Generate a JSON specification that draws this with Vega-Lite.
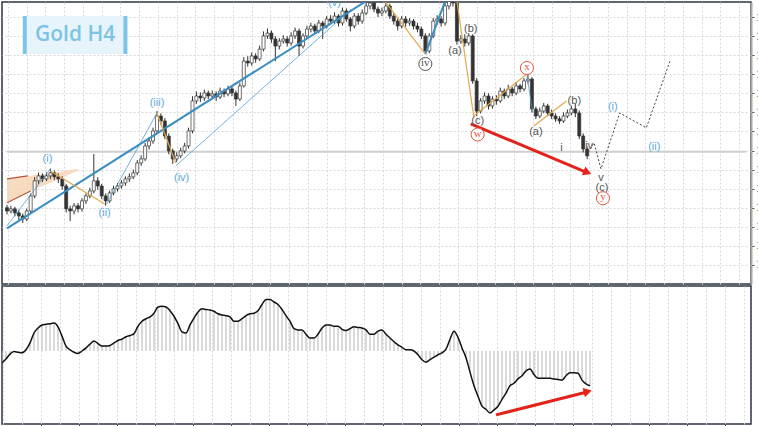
{
  "$schema": "https://vega.github.io/schema/vega-lite/v6.json",
  "padding": {"left": 1, "top": 1, "right": -19, "bottom": 0},
  "background": "white",
  "config": {
    "view": {"stroke": "#2b3440", "strokeWidth": 1.5},
    "concat": {"spacing": 0},
    "axis": {"gridColor": "#d8d8d8", "gridDash": [2, 2], "gridWidth": 1, "tickColor": "#555", "labelColor": "#333", "labelFontSize": 10, "labelFont": "Liberation Sans"}
  },
  "datasets": {
    "candles": [
      {"t":0,"o":1420.0,"h":1421.5,"l":1416.5,"c":1418.3,"m":-0.19},
      {"t":1,"o":1418.3,"h":1421.0,"l":1417.0,"c":1419.4,"m":-0.13},
      {"t":2,"o":1419.4,"h":1420.5,"l":1415.5,"c":1417.3,"m":-0.05},
      {"t":3,"o":1417.3,"h":1419.0,"l":1413.5,"c":1415.7,"m":-0.01},
      {"t":4,"o":1415.7,"h":1417.0,"l":1412.0,"c":1414.1,"m":-0.02},
      {"t":5,"o":1414.1,"h":1419.5,"l":1413.0,"c":1418.3,"m":-0.03},
      {"t":6,"o":1418.3,"h":1427.5,"l":1417.0,"c":1426.2,"m":0.02},
      {"t":7,"o":1426.2,"h":1436.0,"l":1425.0,"c":1434.1,"m":0.13},
      {"t":8,"o":1434.1,"h":1438.5,"l":1432.5,"c":1436.7,"m":0.29},
      {"t":9,"o":1436.7,"h":1438.0,"l":1433.5,"c":1435.1,"m":0.37},
      {"t":10,"o":1435.1,"h":1438.5,"l":1434.0,"c":1436.7,"m":0.42},
      {"t":11,"o":1436.7,"h":1440.5,"l":1435.0,"c":1438.3,"m":0.43},
      {"t":12,"o":1438.3,"h":1439.5,"l":1434.5,"c":1436.2,"m":0.44},
      {"t":13,"o":1436.2,"h":1438.0,"l":1433.0,"c":1435.1,"m":0.45},
      {"t":14,"o":1435.1,"h":1436.5,"l":1429.5,"c":1431.4,"m":0.39},
      {"t":15,"o":1431.4,"h":1432.5,"l":1417.5,"c":1419.4,"m":0.24},
      {"t":16,"o":1419.4,"h":1421.0,"l":1413.0,"c":1418.3,"m":0.08},
      {"t":17,"o":1418.3,"h":1422.5,"l":1416.5,"c":1421.0,"m":0.02},
      {"t":18,"o":1421.0,"h":1422.5,"l":1417.5,"c":1419.4,"m":-0.02},
      {"t":19,"o":1419.4,"h":1425.0,"l":1418.0,"c":1423.6,"m":-0.04},
      {"t":20,"o":1423.6,"h":1427.5,"l":1422.0,"c":1426.2,"m":0.0},
      {"t":21,"o":1426.2,"h":1430.5,"l":1425.0,"c":1428.8,"m":0.05},
      {"t":22,"o":1428.8,"h":1448.2,"l":1427.5,"c":1434.1,"m":0.11},
      {"t":23,"o":1434.1,"h":1436.0,"l":1429.5,"c":1431.4,"m":0.16},
      {"t":24,"o":1431.4,"h":1432.5,"l":1424.5,"c":1426.2,"m":0.12},
      {"t":25,"o":1426.2,"h":1427.5,"l":1421.0,"c":1423.6,"m":0.08},
      {"t":26,"o":1423.6,"h":1429.0,"l":1422.5,"c":1427.8,"m":0.08},
      {"t":27,"o":1427.8,"h":1431.5,"l":1426.5,"c":1429.9,"m":0.09},
      {"t":28,"o":1429.9,"h":1433.0,"l":1428.5,"c":1431.4,"m":0.13},
      {"t":29,"o":1431.4,"h":1434.5,"l":1430.0,"c":1433.0,"m":0.17},
      {"t":30,"o":1433.0,"h":1436.5,"l":1431.5,"c":1435.1,"m":0.19},
      {"t":31,"o":1435.1,"h":1438.0,"l":1433.5,"c":1436.2,"m":0.23},
      {"t":32,"o":1436.2,"h":1440.0,"l":1435.0,"c":1438.3,"m":0.25},
      {"t":33,"o":1438.3,"h":1445.0,"l":1437.0,"c":1443.5,"m":0.28},
      {"t":34,"o":1443.5,"h":1447.5,"l":1442.0,"c":1445.6,"m":0.40},
      {"t":35,"o":1445.6,"h":1454.0,"l":1444.5,"c":1452.4,"m":0.48},
      {"t":36,"o":1452.4,"h":1457.0,"l":1450.5,"c":1455.0,"m":0.52},
      {"t":37,"o":1455.0,"h":1462.0,"l":1453.5,"c":1460.3,"m":0.55},
      {"t":38,"o":1460.3,"h":1470.7,"l":1459.0,"c":1468.1,"m":0.61},
      {"t":39,"o":1468.1,"h":1469.5,"l":1463.5,"c":1465.5,"m":0.71},
      {"t":40,"o":1465.5,"h":1467.0,"l":1456.0,"c":1457.6,"m":0.72},
      {"t":41,"o":1457.6,"h":1459.0,"l":1448.0,"c":1449.8,"m":0.71},
      {"t":42,"o":1449.8,"h":1451.0,"l":1443.0,"c":1445.6,"m":0.65},
      {"t":43,"o":1445.6,"h":1449.0,"l":1444.0,"c":1447.2,"m":0.56},
      {"t":44,"o":1447.2,"h":1451.5,"l":1446.0,"c":1449.8,"m":0.44},
      {"t":45,"o":1449.8,"h":1454.0,"l":1448.5,"c":1452.4,"m":0.31},
      {"t":46,"o":1452.4,"h":1462.0,"l":1451.0,"c":1460.3,"m":0.29},
      {"t":47,"o":1460.3,"h":1478.5,"l":1459.0,"c":1476.0,"m":0.42},
      {"t":48,"o":1476.0,"h":1481.0,"l":1474.5,"c":1478.6,"m":0.53},
      {"t":49,"o":1478.6,"h":1480.5,"l":1475.5,"c":1477.6,"m":0.63},
      {"t":50,"o":1477.6,"h":1482.0,"l":1476.0,"c":1480.2,"m":0.68},
      {"t":51,"o":1480.2,"h":1481.5,"l":1477.0,"c":1478.6,"m":0.67},
      {"t":52,"o":1478.6,"h":1481.5,"l":1477.5,"c":1479.7,"m":0.66},
      {"t":53,"o":1479.7,"h":1481.0,"l":1476.0,"c":1478.1,"m":0.64},
      {"t":54,"o":1478.1,"h":1483.0,"l":1477.0,"c":1481.2,"m":0.60},
      {"t":55,"o":1481.2,"h":1482.5,"l":1478.0,"c":1479.7,"m":0.58},
      {"t":56,"o":1479.7,"h":1484.0,"l":1478.5,"c":1482.3,"m":0.57},
      {"t":57,"o":1482.3,"h":1483.5,"l":1478.5,"c":1480.2,"m":0.55},
      {"t":58,"o":1480.2,"h":1481.5,"l":1473.4,"c":1477.0,"m":0.48},
      {"t":59,"o":1477.0,"h":1485.5,"l":1476.0,"c":1483.9,"m":0.48},
      {"t":60,"o":1483.9,"h":1499.0,"l":1483.0,"c":1496.9,"m":0.52},
      {"t":61,"o":1496.9,"h":1499.5,"l":1494.0,"c":1495.9,"m":0.57},
      {"t":62,"o":1495.9,"h":1501.5,"l":1494.5,"c":1499.6,"m":0.60},
      {"t":63,"o":1499.6,"h":1501.0,"l":1496.0,"c":1498.0,"m":0.61},
      {"t":64,"o":1498.0,"h":1505.0,"l":1497.0,"c":1503.2,"m":0.65},
      {"t":65,"o":1503.2,"h":1512.5,"l":1502.0,"c":1510.1,"m":0.75},
      {"t":66,"o":1510.1,"h":1514.0,"l":1508.5,"c":1511.6,"m":0.83},
      {"t":67,"o":1511.6,"h":1513.0,"l":1506.5,"c":1508.5,"m":0.83},
      {"t":68,"o":1508.5,"h":1510.0,"l":1496.9,"c":1504.8,"m":0.79},
      {"t":69,"o":1504.8,"h":1509.0,"l":1503.0,"c":1507.4,"m":0.75},
      {"t":70,"o":1507.4,"h":1510.5,"l":1506.0,"c":1508.5,"m":0.67},
      {"t":71,"o":1508.5,"h":1510.0,"l":1504.5,"c":1506.4,"m":0.57},
      {"t":72,"o":1506.4,"h":1512.0,"l":1505.0,"c":1510.1,"m":0.48},
      {"t":73,"o":1510.1,"h":1514.5,"l":1508.5,"c":1512.7,"m":0.36},
      {"t":74,"o":1512.7,"h":1514.0,"l":1499.6,"c":1504.8,"m":0.34},
      {"t":75,"o":1504.8,"h":1511.5,"l":1503.5,"c":1510.1,"m":0.34},
      {"t":76,"o":1510.1,"h":1515.5,"l":1508.5,"c":1513.7,"m":0.27},
      {"t":77,"o":1513.7,"h":1517.0,"l":1512.0,"c":1515.3,"m":0.21},
      {"t":78,"o":1515.3,"h":1516.5,"l":1511.0,"c":1512.7,"m":0.21},
      {"t":79,"o":1512.7,"h":1518.5,"l":1511.5,"c":1516.9,"m":0.27},
      {"t":80,"o":1516.9,"h":1518.0,"l":1508.5,"c":1515.3,"m":0.37},
      {"t":81,"o":1515.3,"h":1520.5,"l":1514.0,"c":1519.0,"m":0.42},
      {"t":82,"o":1519.0,"h":1521.0,"l":1516.0,"c":1517.9,"m":0.42},
      {"t":83,"o":1517.9,"h":1522.5,"l":1516.5,"c":1520.5,"m":0.40},
      {"t":84,"o":1520.5,"h":1521.5,"l":1515.0,"c":1516.9,"m":0.40},
      {"t":85,"o":1516.9,"h":1525.0,"l":1515.5,"c":1523.2,"m":0.35},
      {"t":86,"o":1523.2,"h":1524.5,"l":1517.5,"c":1519.0,"m":0.33},
      {"t":87,"o":1519.0,"h":1520.0,"l":1512.5,"c":1515.3,"m":0.36},
      {"t":88,"o":1515.3,"h":1522.0,"l":1514.0,"c":1520.5,"m":0.39},
      {"t":89,"o":1520.5,"h":1522.0,"l":1516.0,"c":1517.9,"m":0.38},
      {"t":90,"o":1517.9,"h":1524.0,"l":1516.5,"c":1522.1,"m":0.37},
      {"t":91,"o":1522.1,"h":1527.5,"l":1521.0,"c":1525.8,"m":0.34},
      {"t":92,"o":1525.8,"h":1530.0,"l":1524.0,"c":1527.4,"m":0.27},
      {"t":93,"o":1527.4,"h":1528.5,"l":1522.5,"c":1524.2,"m":0.27},
      {"t":94,"o":1524.2,"h":1525.5,"l":1520.0,"c":1522.1,"m":0.32},
      {"t":95,"o":1522.1,"h":1525.0,"l":1520.5,"c":1523.2,"m":0.34},
      {"t":96,"o":1523.2,"h":1528.0,"l":1522.0,"c":1525.8,"m":0.27},
      {"t":97,"o":1525.8,"h":1527.0,"l":1519.0,"c":1520.5,"m":0.21},
      {"t":98,"o":1520.5,"h":1522.0,"l":1516.0,"c":1517.9,"m":0.15},
      {"t":99,"o":1517.9,"h":1519.5,"l":1513.0,"c":1515.3,"m":0.10},
      {"t":100,"o":1515.3,"h":1520.5,"l":1514.0,"c":1519.0,"m":0.06},
      {"t":101,"o":1519.0,"h":1520.5,"l":1515.0,"c":1516.9,"m":0.02},
      {"t":102,"o":1516.9,"h":1519.5,"l":1515.5,"c":1517.9,"m":0.02},
      {"t":103,"o":1517.9,"h":1519.0,"l":1513.5,"c":1515.3,"m":0.0},
      {"t":104,"o":1515.3,"h":1517.0,"l":1512.0,"c":1513.7,"m":-0.06},
      {"t":105,"o":1513.7,"h":1515.0,"l":1508.5,"c":1510.1,"m":-0.14},
      {"t":106,"o":1510.1,"h":1511.5,"l":1500.6,"c":1502.2,"m":-0.18},
      {"t":107,"o":1502.2,"h":1511.5,"l":1501.0,"c":1510.1,"m":-0.14},
      {"t":108,"o":1510.1,"h":1519.5,"l":1509.0,"c":1517.9,"m":-0.10},
      {"t":109,"o":1517.9,"h":1521.0,"l":1516.0,"c":1519.0,"m":-0.06},
      {"t":110,"o":1519.0,"h":1520.5,"l":1515.0,"c":1516.9,"m":-0.03},
      {"t":111,"o":1516.9,"h":1527.5,"l":1515.5,"c":1525.8,"m":0.03},
      {"t":112,"o":1525.8,"h":1533.0,"l":1524.0,"c":1531.0,"m":0.19},
      {"t":113,"o":1531.0,"h":1533.0,"l":1525.5,"c":1527.4,"m":0.32},
      {"t":114,"o":1527.4,"h":1528.5,"l":1505.5,"c":1507.4,"m":0.22},
      {"t":115,"o":1507.4,"h":1510.5,"l":1506.0,"c":1508.5,"m":0.05},
      {"t":116,"o":1508.5,"h":1511.0,"l":1504.5,"c":1506.4,"m":-0.11},
      {"t":117,"o":1506.4,"h":1511.5,"l":1505.0,"c":1510.1,"m":-0.34},
      {"t":118,"o":1510.1,"h":1511.0,"l":1485.0,"c":1486.5,"m":-0.56},
      {"t":119,"o":1486.5,"h":1488.0,"l":1468.1,"c":1470.7,"m":-0.73},
      {"t":120,"o":1470.7,"h":1477.5,"l":1469.5,"c":1476.0,"m":-0.89},
      {"t":121,"o":1476.0,"h":1480.5,"l":1474.5,"c":1478.6,"m":-0.94},
      {"t":122,"o":1478.6,"h":1480.0,"l":1471.5,"c":1473.4,"m":-1.0},
      {"t":123,"o":1473.4,"h":1478.5,"l":1472.0,"c":1477.0,"m":-0.95},
      {"t":124,"o":1477.0,"h":1479.0,"l":1474.0,"c":1476.0,"m":-0.89},
      {"t":125,"o":1476.0,"h":1483.0,"l":1475.0,"c":1481.2,"m":-0.78},
      {"t":126,"o":1481.2,"h":1482.5,"l":1477.0,"c":1478.6,"m":-0.68},
      {"t":127,"o":1478.6,"h":1484.5,"l":1477.5,"c":1482.3,"m":-0.56},
      {"t":128,"o":1482.3,"h":1483.5,"l":1478.5,"c":1480.2,"m":-0.52},
      {"t":129,"o":1480.2,"h":1486.0,"l":1479.0,"c":1483.9,"m":-0.45},
      {"t":130,"o":1483.9,"h":1485.0,"l":1480.5,"c":1482.3,"m":-0.40},
      {"t":131,"o":1482.3,"h":1488.0,"l":1481.0,"c":1486.5,"m":-0.32},
      {"t":132,"o":1486.5,"h":1490.1,"l":1485.0,"c":1487.5,"m":-0.29},
      {"t":133,"o":1487.5,"h":1488.5,"l":1470.0,"c":1471.8,"m":-0.38},
      {"t":134,"o":1471.8,"h":1473.0,"l":1466.5,"c":1468.1,"m":-0.44},
      {"t":135,"o":1468.1,"h":1472.5,"l":1467.0,"c":1470.7,"m":-0.44},
      {"t":136,"o":1470.7,"h":1475.0,"l":1469.5,"c":1473.4,"m":-0.44},
      {"t":137,"o":1473.4,"h":1474.5,"l":1468.0,"c":1469.7,"m":-0.44},
      {"t":138,"o":1469.7,"h":1471.5,"l":1466.5,"c":1468.1,"m":-0.45},
      {"t":139,"o":1468.1,"h":1469.5,"l":1465.0,"c":1466.6,"m":-0.46},
      {"t":140,"o":1466.6,"h":1468.0,"l":1464.0,"c":1465.5,"m":-0.47},
      {"t":141,"o":1465.5,"h":1470.0,"l":1464.5,"c":1468.1,"m":-0.40},
      {"t":142,"o":1468.1,"h":1471.5,"l":1467.0,"c":1469.7,"m":-0.35},
      {"t":143,"o":1469.7,"h":1473.5,"l":1468.5,"c":1471.8,"m":-0.35},
      {"t":144,"o":1471.8,"h":1474.4,"l":1467.5,"c":1469.7,"m":-0.36},
      {"t":145,"o":1469.7,"h":1471.0,"l":1456.0,"c":1457.6,"m":-0.47},
      {"t":146,"o":1457.6,"h":1459.0,"l":1449.0,"c":1450.8,"m":-0.53},
      {"t":147,"o":1450.8,"h":1452.0,"l":1445.5,"c":1447.2,"m":-0.56}
    ],
    "segs": [
      {"seg":"b1","kind":"blueThick","t":0,"p":1409.2},
      {"seg":"b1","kind":"blueThick","t":95,"p":1533.6},
      {"seg":"b2","kind":"blueThick","t":106,"p":1500.6},
      {"seg":"b2","kind":"blueThick","t":111.5,"p":1531.0},
      {"seg":"b3","kind":"blueThin","t":42.75,"p":1441.9},
      {"seg":"b3","kind":"blueThin","t":87.25,"p":1524.2},
      {"seg":"b4","kind":"blueThin","t":25.25,"p":1422.0},
      {"seg":"b4","kind":"blueThin","t":38,"p":1469.7},
      {"seg":"b5","kind":"blueThin","t":0,"p":1410.5},
      {"seg":"b5","kind":"blueThin","t":11,"p":1440.4},
      {"seg":"b6","kind":"blueThin","t":131.75,"p":1489.1},
      {"seg":"b6","kind":"blueThin","t":133.25,"p":1469.7},
      {"seg":"o1","kind":"tan","t":11,"p":1439.3},
      {"seg":"o1","kind":"tan","t":24.75,"p":1422.0},
      {"seg":"o2","kind":"tan","t":38,"p":1469.7},
      {"seg":"o2","kind":"tan","t":42.75,"p":1443.5},
      {"seg":"o3","kind":"tan","t":94.75,"p":1531.0},
      {"seg":"o3","kind":"tan","t":106,"p":1500.6},
      {"seg":"o4","kind":"tan","t":114,"p":1528.4},
      {"seg":"o4","kind":"tan","t":118.25,"p":1468.1},
      {"seg":"o5","kind":"tan","t":118.25,"p":1468.1},
      {"seg":"o5","kind":"tan","t":131.75,"p":1490.1},
      {"seg":"o6","kind":"tan","t":133.5,"p":1462.9},
      {"seg":"o6","kind":"tan","t":141.75,"p":1476.0},
      {"seg":"r1","kind":"brown","t":0,"p":1435.1},
      {"seg":"r1","kind":"brown","t":5.25,"p":1436.7},
      {"seg":"r2","kind":"brown","t":0,"p":1422.6},
      {"seg":"r2","kind":"brown","t":6,"p":1428.8},
      {"seg":"d","kind":"dotted","t":146.75,"p":1447.2},
      {"seg":"d","kind":"dotted","t":148.75,"p":1454.0},
      {"seg":"d","kind":"dotted","t":150.5,"p":1440.4},
      {"seg":"d","kind":"dotted","t":155.25,"p":1469.7},
      {"seg":"d","kind":"dotted","t":162,"p":1461.9},
      {"seg":"d","kind":"dotted","t":168,"p":1497.0},
      {"seg":"a1","kind":"arrow","t":117.5,"p":1464.0},
      {"seg":"a1","kind":"arrow","t":146.25,"p":1439.1}
    ],
    "arrowHead": [{"t":146.75,"p":1438.8}],
    "wedge": [
      {"t":0,"p":1435.1,"p2":1422.6},
      {"t":5.25,"p":1436.7,"p2":1428.3},
      {"t":12.25,"p":1438.3,"p2":1434.1},
      {"t":17.75,"p":1440.4,"p2":1439.3}
    ],
    "lastPrice": [{"t":0,"p":1449.3},{"t":187.25,"p":1449.3}],
    "labels": [
      {"t":10.25,"p":1445.6,"txt":"(i)","kind":"blue"},
      {"t":24.75,"p":1417.3,"txt":"(ii)","kind":"blue"},
      {"t":38,"p":1474.9,"txt":"(iii)","kind":"blue"},
      {"t":44.25,"p":1435.6,"txt":"(iv)","kind":"blue"},
      {"t":83,"p":1527.4,"txt":"(v)","kind":"blue"},
      {"t":153.5,"p":1472.8,"txt":"(i)","kind":"blue"},
      {"t":164,"p":1451.9,"txt":"(ii)","kind":"blue"},
      {"t":113.5,"p":1502.2,"txt":"(a)","kind":"gray"},
      {"t":117.5,"p":1513.7,"txt":"(b)","kind":"gray"},
      {"t":119.25,"p":1465.5,"txt":"(c)","kind":"gray"},
      {"t":134,"p":1459.7,"txt":"(a)","kind":"gray"},
      {"t":143.75,"p":1476.0,"txt":"(b)","kind":"gray"},
      {"t":140.5,"p":1451.4,"txt":"i","kind":"gray"},
      {"t":147.5,"p":1452.4,"txt":"iv","kind":"gray"},
      {"t":150.5,"p":1435.8,"txt":"v","kind":"gray"},
      {"t":150.75,"p":1430.6,"txt":"(c)","kind":"gray"}
    ],
    "circled": [
      {"t":106,"p":1495.4,"txt":"iv","kind":"gray"},
      {"t":119.25,"p":1458.4,"txt":"w","kind":"red"},
      {"t":131.75,"p":1493.3,"txt":"x","kind":"red"},
      {"t":151,"p":1425.0,"txt":"y","kind":"red"}
    ],
    "titleBox": [
      {"part":"box","t":4,"t2":30.5,"p":1500.6,"p2":1520.5},
      {"part":"bar","t":4,"t2":5,"p":1500.6,"p2":1520.5},
      {"part":"bar","t":29.5,"t2":30.5,"p":1500.6,"p2":1520.5}
    ],
    "titleText": [{"t":17.25,"p":1510.4,"txt":"Gold H4"}],
    "arrow2": [{"t":123.5,"m":-1.03},{"t":145.75,"m":-0.67}],
    "arrow2Head": [{"t":146.1,"m":-0.66}]
  },
  "vconcat": [
    {
      "width": 749,
      "height": 282,
      "encoding": {
        "x": {"field": "t", "type": "quantitative", "title": null,
          "scale": {"domain": [0, 187.25], "nice": false, "zero": false},
          "axis": {"values": [0.25,5,9.75,14.5,19.25,24,28.75,33.5,38.25,43,47.75,52.5,57.25,62,66.75,71.5,76.25,81,85.75,90.5,95.25,100,104.75,109.5,114.25,119,123.75,128.5,133.25,138,142.75,147.5,152.25,157,161.75,166.5,171.25,176,180.75,185.5], "grid": true, "ticks": false, "labels": false, "domain": false}},
        "y": {"field": "p", "type": "quantitative", "title": null,
          "scale": {"domain": [1380, 1527.9], "nice": false, "zero": false},
          "axis": {"orient": "right", "values": [1390,1400,1410,1420,1430,1440,1450,1460,1470,1480,1490,1500,1510,1520], "format": "d", "grid": true, "tickSize": 3, "labelPadding": 2, "domain": true, "domainColor": "#a8a8a8", "domainWidth": 2}}
      },
      "layer": [
        {"data": {"name": "wedge"}, "mark": {"type": "area", "color": "#f6d3b2", "opacity": 0.8, "clip": true}, "encoding": {"y2": {"field": "p2"}}},
        {"data": {"name": "lastPrice"}, "mark": {"type": "line", "color": "#cfcfcf", "strokeWidth": 2, "clip": true}},
        {"data": {"name": "candles"}, "mark": {"type": "rule", "color": "#333", "strokeWidth": 1, "clip": true},
          "encoding": {"y": {"field": "l", "type": "quantitative"}, "y2": {"field": "h"}}},
        {"data": {"name": "candles"}, "mark": {"type": "bar", "size": 3, "stroke": "#333", "strokeWidth": 0.7, "clip": true},
          "encoding": {"y": {"field": "o", "type": "quantitative"}, "y2": {"field": "c"},
            "color": {"condition": {"test": "datum.c >= datum.o", "value": "#ffffff"}, "value": "#333333"}}},
        {"data": {"name": "segs"}, "transform": [{"filter": "datum.kind == 'brown'"}], "mark": {"type": "line", "color": "#b4533c", "strokeWidth": 1.2, "clip": true}, "encoding": {"detail": {"field": "seg"}}},
        {"data": {"name": "segs"}, "transform": [{"filter": "datum.kind == 'blueThin'"}], "mark": {"type": "line", "color": "#4e9fcf", "strokeWidth": 0.8, "clip": true}, "encoding": {"detail": {"field": "seg"}}},
        {"data": {"name": "segs"}, "transform": [{"filter": "datum.kind == 'blueThick'"}], "mark": {"type": "line", "color": "#3a8dc0", "strokeWidth": 2, "clip": true}, "encoding": {"detail": {"field": "seg"}}},
        {"data": {"name": "segs"}, "transform": [{"filter": "datum.kind == 'tan'"}], "mark": {"type": "line", "color": "#e2a84f", "strokeWidth": 1.2, "clip": true}, "encoding": {"detail": {"field": "seg"}}},
        {"data": {"name": "segs"}, "transform": [{"filter": "datum.kind == 'dotted'"}], "mark": {"type": "line", "color": "#444", "strokeWidth": 1, "strokeDash": [2, 2], "clip": true}, "encoding": {"detail": {"field": "seg"}}},
        {"data": {"name": "segs"}, "transform": [{"filter": "datum.kind == 'arrow'"}], "mark": {"type": "line", "color": "#e3231b", "strokeWidth": 3, "clip": true}, "encoding": {"detail": {"field": "seg"}}},
        {"data": {"name": "arrowHead"}, "mark": {"type": "point", "shape": "triangle", "size": 90, "filled": true, "color": "#e3231b", "opacity": 1, "angle": 112, "clip": true}},
        {"data": {"name": "labels"}, "mark": {"type": "text", "font": "Liberation Sans", "fontSize": 11, "clip": true},
          "encoding": {"text": {"field": "txt"}, "color": {"field": "kind", "scale": {"domain": ["blue", "gray"], "range": ["#5aaad8", "#555555"]}, "legend": null}}},
        {"data": {"name": "circled"}, "mark": {"type": "point", "shape": "circle", "size": 170, "filled": false, "fill": "#ffffff", "fillOpacity": 1, "strokeWidth": 1, "opacity": 1, "clip": true},
          "encoding": {"stroke": {"field": "kind", "scale": {"domain": ["gray", "red"], "range": ["#555555", "#e0573f"]}, "legend": null}}},
        {"data": {"name": "circled"}, "mark": {"type": "text", "font": "Liberation Serif", "fontSize": 11, "dy": -1, "clip": true},
          "encoding": {"text": {"field": "txt"}, "color": {"field": "kind", "scale": {"domain": ["gray", "red"], "range": ["#555555", "#e0573f"]}, "legend": null}}},
        {"data": {"name": "titleBox"}, "mark": {"type": "rect", "clip": true},
          "encoding": {"x2": {"field": "t2"}, "y2": {"field": "p2"}, "fill": {"field": "part", "scale": {"domain": ["box", "bar"], "range": ["#e8f4fb", "#7cc4e8"]}, "legend": null}}},
        {"data": {"name": "titleText"}, "mark": {"type": "text", "font": "Open Sans", "fontSize": 21, "fontWeight": 600, "color": "#7cc3e6", "clip": true},
          "encoding": {"text": {"field": "txt"}}}
      ],
      "resolve": {"scale": {"color": "independent", "stroke": "independent", "fill": "independent"}}
    },
    {
      "width": 749,
      "height": 138,
      "data": {"name": "candles"},
      "layer": [
        {"mark": {"type": "rule", "color": "#c2c2c2", "strokeWidth": 1.2, "clip": true},
          "encoding": {
            "x": {"field": "t", "type": "quantitative", "title": null,
              "scale": {"domain": [0, 187.25], "nice": false, "zero": false},
              "axis": {"orient": "bottom", "values": [0.25,5,9.75,14.5,19.25,24,28.75,33.5,38.25,43,47.75,52.5,57.25,62,66.75,71.5,76.25,81,85.75,90.5,95.25,100,104.75,109.5,114.25,119,123.75,128.5,133.25,138,142.75,147.5,152.25,157,161.75,166.5,171.25,176,180.75,185.5], "grid": true, "ticks": false, "labels": false, "domain": false}},
            "y": {"field": "m", "type": "quantitative", "title": null,
              "scale": {"domain": [-1.177, 1.048], "nice": false, "zero": false},
              "axis": {"orient": "right", "values": [-1, 0, 1], "grid": true, "tickSize": 3, "labelPadding": 2, "domain": true, "domainColor": "#a8a8a8", "domainWidth": 2}},
            "y2": {"datum": 0}}},
        {"mark": {"type": "line", "color": "#111111", "strokeWidth": 1.5, "interpolate": "monotone", "clip": true},
          "encoding": {
            "x": {"field": "t", "type": "quantitative", "title": null,
              "axis": {"orient": "bottom", "values": [9.75,19.25,28.75,38.25,47.75,57.25,66.75,76.25,85.75,95.25,104.75,114.25,123.75,133.25,142.75,152.25,161.75,171.25,180.75], "grid": false, "ticks": true, "tickSize": 4, "tickColor": "#333", "labels": false, "domain": false}},
            "y": {"field": "m", "type": "quantitative", "title": null}}},
        {"data": {"name": "arrow2"}, "mark": {"type": "line", "color": "#e3231b", "strokeWidth": 3, "clip": true},
          "encoding": {"x": {"field": "t", "type": "quantitative", "axis": null}, "y": {"field": "m", "type": "quantitative", "axis": null}}},
        {"data": {"name": "arrow2Head"}, "mark": {"type": "point", "shape": "triangle", "size": 90, "filled": true, "color": "#e3231b", "opacity": 1, "angle": 76, "clip": true},
          "encoding": {"x": {"field": "t", "type": "quantitative", "axis": null}, "y": {"field": "m", "type": "quantitative", "axis": null}}}
      ],
      "resolve": {"axis": {"x": "independent"}}
    }
  ]
}
